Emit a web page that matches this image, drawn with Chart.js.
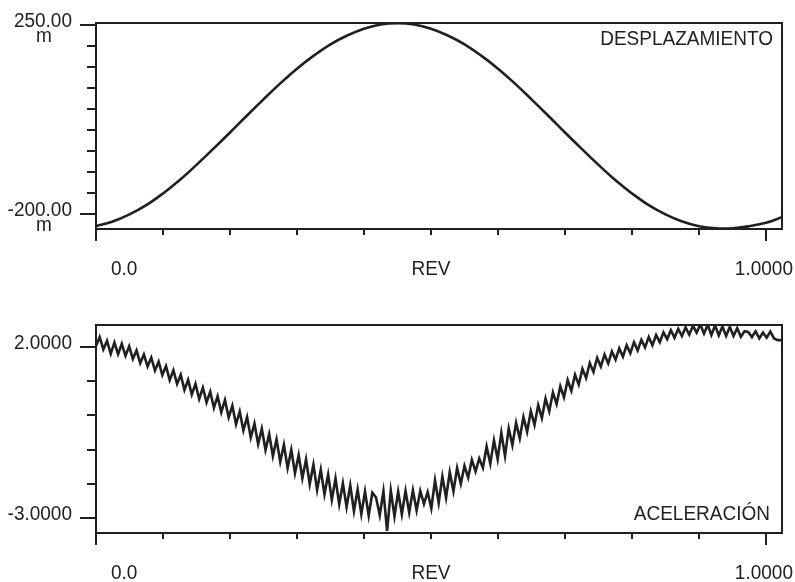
<!DOCTYPE html>
<html>
<head>
<meta charset="utf-8">
<script src="https://cdn.jsdelivr.net/npm/chart.js@4.4.1/dist/chart.umd.min.js"></script>
<style>
  html, body { margin: 0; padding: 0; background: #fff; }
  canvas { display: block; }
</style>
</head>
<body>
<canvas id="disp" width="795" height="291"></canvas>
<canvas id="accel" width="795" height="291"></canvas>
<script>
// Shared revolution axis
const revTicks  = [0, 0.1, 0.2, 0.3, 0.4, 0.5, 0.6, 0.7, 0.8, 0.9, 1.0];
const revLabels = ['0.0', '', '', '', '', 'REV', '', '', '', '', '1.0000'];

// Displacement [m], one sample every 0.025 rev
const dispStep = 0.025;
const displacement = [
  -229, -218, -201, -179, -151, -119, -83, -45, -6, 34,
  73, 111, 146, 177, 204, 225, 241, 251, 254, 251,
  241, 225, 204, 177, 146, 111, 73, 34, -6, -45,
  -83, -119, -151, -179, -201, -218, -229, -234, -234, -229,
  -221, -207
];
const dispTicks  = [250, 200, 150, 100, 50, 0, -50, -100, -150, -200];
const dispLabels = ['250.00', '', '', '', '', '', '', '', '', '-200.00'];
const dispUnit = 'm';
const dispTitle = 'DESPLAZAMIENTO';

// Acceleration, one sample every 0.0055 rev
const accelStep = 0.0055;
const acceleration = [
  2.03, 2.29, 1.93, 2.18, 1.80, 2.13, 1.79, 2.09, 1.74, 2.02,
  1.65, 1.90, 1.53, 1.78, 1.43, 1.69, 1.31, 1.57, 1.18, 1.44,
  1.03, 1.32, 0.92, 1.19, 0.74, 1.04, 0.61, 0.92, 0.48, 0.81,
  0.38, 0.69, 0.22, 0.56, 0.09, 0.45, -0.06, 0.28, -0.26, 0.11,
  -0.44, -0.05, -0.65, -0.24, -0.84, -0.39, -1.01, -0.55, -1.19, -0.70,
  -1.36, -0.86, -1.54, -1.01, -1.69, -1.16, -1.84, -1.29, -2.01, -1.44,
  -2.18, -1.59, -2.31, -1.73, -2.47, -1.85, -2.60, -1.99, -2.68, -2.05,
  -2.80, -2.17, -2.89, -2.23, -2.93, -2.26, -2.40, -2.92, -2.22, -3.38,
  -2.20, -2.95, -2.23, -2.89, -2.21, -2.84, -2.19, -2.78, -2.21, -2.59,
  -2.24, -2.72, -1.90, -2.56, -1.79, -2.41, -1.66, -2.22, -1.54, -2.00,
  -1.48, -1.82, -1.30, -1.64, -1.26, -1.53, -0.91, -1.41, -0.73, -1.28,
  -0.51, -1.19, -0.38, -0.87, -0.22, -0.67, -0.05, -0.48, 0.12, -0.28,
  0.30, -0.08, 0.49, 0.12, 0.67, 0.33, 0.85, 0.53, 1.03, 0.72,
  1.19, 0.90, 1.36, 1.09, 1.53, 1.27, 1.68, 1.43, 1.78, 1.52,
  1.87, 1.63, 1.96, 1.72, 2.05, 1.82, 2.14, 1.90, 2.21, 1.99,
  2.29, 2.05, 2.35, 2.14, 2.43, 2.23, 2.49, 2.27, 2.53, 2.32,
  2.57, 2.36, 2.62, 2.42, 2.66, 2.39, 2.65, 2.35, 2.63, 2.34,
  2.60, 2.32, 2.59, 2.32, 2.55, 2.30, 2.46, 2.44, 2.29, 2.46,
  2.25, 2.42, 2.27, 2.45, 2.25, 2.20, 2.20
];
const accelTicks  = [2, 1, 0, -1, -2, -3];
const accelLabels = ['2.0000', '', '', '', '', '-3.0000'];
const accelTitle = 'ACELERACIÓN';

const INK = '#231f20';
const FONT = '20px "Liberation Sans", Arial, sans-serif';
const TEXT_SQUEEZE = 0.95;
const REV_MAX = 1.0239;

function toPoints(values, step) {
  return values.map((v, i) => ({ x: i * step, y: v }));
}

// slightly condensed text, drawn at (x, y) on the alphabetic baseline
function drawText(ctx, text, x, y, align) {
  ctx.save();
  ctx.translate(x, y);
  ctx.scale(TEXT_SQUEEZE, 1);
  ctx.textAlign = align;
  ctx.fillText(text, 0, 0);
  ctx.restore();
}

// Box frame, outside tick marks and all axis text, placed through the chart scales
function framePlugin(cfg) {
  return {
    id: 'frame',
    afterDatasetsDraw(chart) {
      const { ctx, chartArea: a, scales: { x, y } } = chart;
      ctx.save();
      ctx.strokeStyle = INK;
      ctx.fillStyle = INK;
      ctx.lineWidth = 2;
      ctx.strokeRect(a.left, a.top, a.right - a.left, a.bottom - a.top);

      ctx.beginPath();
      cfg.yTicks.forEach((v, i) => {
        const py = Math.round(y.getPixelForValue(v));
        const len = cfg.yLabels[i] ? 16 : 9;
        ctx.moveTo(a.left - len, py);
        ctx.lineTo(a.left, py);
      });
      revTicks.forEach((v, i) => {
        const px = Math.round(x.getPixelForValue(v));
        const len = (i === 0 || i === revTicks.length - 1) ? 12 : 6;
        ctx.moveTo(px, a.bottom);
        ctx.lineTo(px, a.bottom + len);
      });
      ctx.stroke();

      ctx.font = FONT;
      ctx.textBaseline = 'alphabetic';

      // value labels on the left
      cfg.yTicks.forEach((v, i) => {
        const text = cfg.yLabels[i];
        if (!text) return;
        const py = y.getPixelForValue(v);
        drawText(ctx, text, a.left - 24, py + 2, 'right');
        if (cfg.unit) drawText(ctx, cfg.unit, a.left - 52, py + 17, 'center');
      });

      // revolution labels under the axis
      revTicks.forEach((v, i) => {
        const text = revLabels[i];
        if (!text) return;
        const px = x.getPixelForValue(v);
        if (i === 0) drawText(ctx, text, px + 15, a.bottom + 46, 'left');
        else if (i === revTicks.length - 1) drawText(ctx, text, px + 27, a.bottom + 46, 'right');
        else drawText(ctx, text, px, a.bottom + 46, 'center');
      });

      // panel title inside the box
      drawText(ctx, cfg.title, a.right - cfg.titleInset,
        cfg.titleAtTop ? a.top + 22 : a.bottom - 13, 'right');
      ctx.restore();
    }
  };
}

function makeChart(id, values, step, yMin, yMax, tension, padding, cfg) {
  return new Chart(document.getElementById(id), {
    type: 'line',
    data: {
      datasets: [{
        data: toPoints(values, step),
        borderColor: INK,
        borderWidth: 2.6,
        pointRadius: 0,
        tension: tension,
        fill: false
      }]
    },
    options: {
      responsive: false,
      animation: false,
      devicePixelRatio: 1,
      layout: { padding: padding },
      plugins: { legend: { display: false }, tooltip: { enabled: false } },
      scales: {
        x: { type: 'linear', min: 0, max: REV_MAX, display: false },
        y: { type: 'linear', min: yMin, max: yMax, display: false }
      }
    },
    plugins: [framePlugin(cfg)]
  });
}

makeChart('disp', displacement, dispStep, -235.7, 254.76, 0.4,
  { left: 96, right: 13, top: 23, bottom: 62 },
  { yTicks: dispTicks, yLabels: dispLabels, unit: dispUnit, title: dispTitle, titleInset: 9, titleAtTop: true });

makeChart('accel', acceleration, accelStep, -3.44, 2.643, 0,
  { left: 96, right: 13, top: 34, bottom: 49 },
  { yTicks: accelTicks, yLabels: accelLabels, unit: '', title: accelTitle, titleInset: 12, titleAtTop: false });
</script>
</body>
</html>
